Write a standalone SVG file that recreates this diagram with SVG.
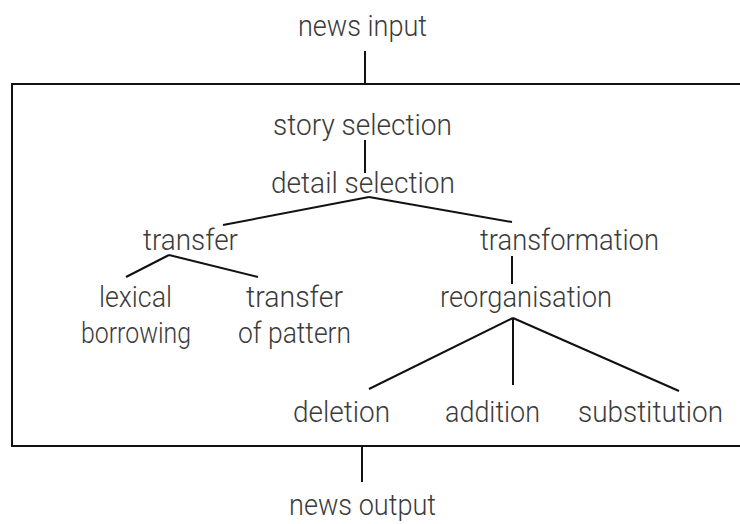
<svg xmlns="http://www.w3.org/2000/svg" width="740" height="524" viewBox="0 0 740 524">
<style>
text{font-family:Roboto,"Liberation Sans",sans-serif;font-weight:300;font-size:29px;fill:#3b3b3b;text-anchor:middle}
.ln{stroke:#111;stroke-width:2;fill:none;stroke-linecap:butt}
</style>
<rect width="740" height="524" fill="#fff"/>
<g id="frame"><path class="ln" d="M742,84 H12 V446 H742"/></g>
<g id="connectors">
<line class="ln" x1="365" y1="51" x2="365" y2="84"/>
<line class="ln" x1="365" y1="140" x2="365" y2="173"/>
<line class="ln" x1="369" y1="197" x2="223" y2="225"/>
<line class="ln" x1="369" y1="197" x2="512" y2="222"/>
<line class="ln" x1="169" y1="255" x2="126" y2="277"/>
<line class="ln" x1="169" y1="255" x2="258" y2="277"/>
<line class="ln" x1="512" y1="256" x2="512" y2="284"/>
<line class="ln" x1="513" y1="318" x2="369" y2="389"/>
<line class="ln" x1="513" y1="318" x2="513" y2="385"/>
<line class="ln" x1="513" y1="318" x2="679" y2="391"/>
<line class="ln" x1="362" y1="447" x2="362" y2="482"/>
</g>
<g id="news-input"><text x="362.5" y="36" textLength="129" lengthAdjust="spacingAndGlyphs">news input</text></g>
<g id="story-selection"><text x="362.5" y="135" textLength="179" lengthAdjust="spacingAndGlyphs">story selection</text></g>
<g id="detail-selection"><text x="363" y="193" textLength="184" lengthAdjust="spacingAndGlyphs">detail selection</text></g>
<g id="transfer"><text x="190.5" y="250" textLength="95" lengthAdjust="spacingAndGlyphs">transfer</text></g>
<g id="transformation"><text x="569.5" y="250" textLength="179" lengthAdjust="spacingAndGlyphs">transformation</text></g>
<g id="lexical-borrowing">
<text x="135.5" y="307" textLength="73" lengthAdjust="spacingAndGlyphs">lexical</text>
<text x="136" y="343" textLength="110" lengthAdjust="spacingAndGlyphs">borrowing</text>
</g>
<g id="transfer-of-pattern">
<text x="294.5" y="307" textLength="97" lengthAdjust="spacingAndGlyphs">transfer</text>
<text x="294.5" y="343" textLength="113" lengthAdjust="spacingAndGlyphs">of pattern</text>
</g>
<g id="reorganisation"><text x="526" y="307" textLength="172" lengthAdjust="spacingAndGlyphs">reorganisation</text></g>
<g id="deletion"><text x="341.5" y="422" textLength="97" lengthAdjust="spacingAndGlyphs">deletion</text></g>
<g id="addition"><text x="492.5" y="422" textLength="95" lengthAdjust="spacingAndGlyphs">addition</text></g>
<g id="substitution"><text x="650.5" y="422" textLength="145" lengthAdjust="spacingAndGlyphs">substitution</text></g>
<g id="news-output"><text x="362.5" y="515" textLength="147" lengthAdjust="spacingAndGlyphs">news output</text></g>
</svg>
